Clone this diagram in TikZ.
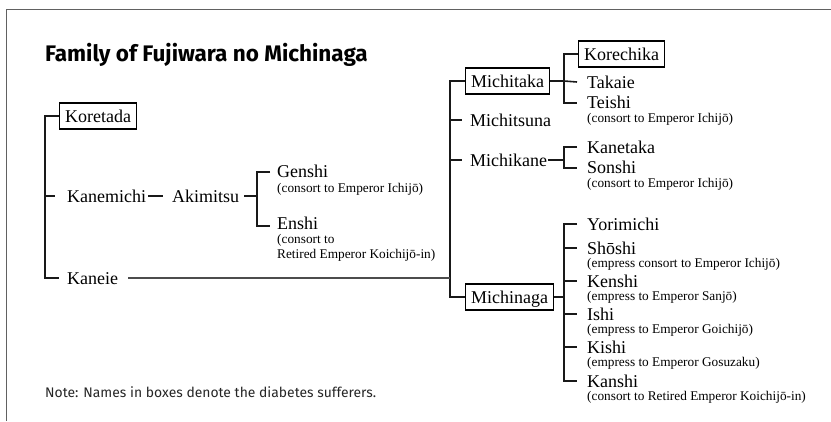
\documentclass[tikz,border=0pt]{standalone}
\usepackage{fontspec}
\setmainfont{Liberation Serif}
\newfontfamily\ttlfam{Fira Sans}
\newfontfamily\notefam{Fira Sans}
\newcommand\nmfont{\fontsize{18}{20}\selectfont}
\newcommand\sbfont{\fontsize{13.3}{15}\selectfont}
\tikzset{
  namebox/.style={draw, line width=1.1pt, inner xsep=5.5pt, inner ysep=0pt, minimum height=26pt, font=\nmfont, text height=12.5pt, text depth=0pt},
  pname/.style={inner sep=0pt, anchor=west, font=\nmfont, text height=12.5pt, text depth=0pt},
  psub/.style={inner sep=0pt, anchor=west, font=\sbfont, align=left},
  link/.style={line width=1.6pt, draw=black!90},
  longlink/.style={line width=2pt, draw=black!70},
  frame/.style={line width=1.6pt, draw=black!62}
}
\begin{document}
\begin{tikzpicture}[x=1pt,y=-1pt]
\useasboundingbox (0,0) rectangle (831,421);
\draw[frame] (6.5,421) -- (6.5,9.5) -- (831,9.5);
\node[anchor=base west, inner sep=0pt, font={\ttlfam\bfseries\fontsize{22.5}{26}\selectfont}] (title) at (45,61) {Family of Fujiwara no Michinaga};
\node[anchor=base west, inner sep=0pt, font={\notefam\fontsize{13.9}{16}\selectfont}, text=black!85] (note) at (45,397) {Note: Names in boxes denote the diabetes sufferers.};

% left generation
\node[namebox, anchor=west] (koretada) at (59,116) {Koretada};
\node[pname] (kanemichi) at (67,196) {Kanemichi};
\node[pname] (akimitsu) at (172,196) {Akimitsu};
\node[pname] (kaneie) at (67,278) {Kaneie};
\coordinate (trL) at (45,196);
\draw[link] (koretada.west) -- ++(-14,0) |- ([xshift=-8pt]kaneie.west);
\draw[link] (trL) -- ([xshift=-12pt]kanemichi.west);
\draw[link] ([xshift=2pt]kanemichi.east) -- ([xshift=-9pt]akimitsu.west);

% Akimitsu's children
\node[pname] (genshi) at (277,171) {Genshi};
\node[psub] (genshisub) at (277,189) {(consort to Emperor Ichijō)};
\node[pname] (enshi) at (277,223) {Enshi};
\node[psub] (enshisub) at (277,248) {(consort to\\Retired Emperor Koichijō-in)};
\coordinate (brA) at (257,196);
\draw[link] ([xshift=5pt]akimitsu.east) -- (brA);
\draw[link] ([shift={(-7pt,-1pt)}]genshi.west) -| (brA) |- ([shift={(-7pt,-3pt)}]enshi.west);

% right generation
\node[namebox, anchor=west] (michitaka) at (465,81) {Michitaka};
\node[pname] (michitsuna) at (470,120) {Michitsuna};
\node[pname] (michikane) at (470,160) {Michikane};
\node[namebox, anchor=west] (michinaga) at (465,297) {Michinaga};
\coordinate (trR) at (450,278);
\draw[link] (michitaka.west) -- ++(-15,0) |- (michinaga.west);
\draw[link] (450,120) -- ([xshift=-8pt]michitsuna.west);
\draw[link] (450,160) -- ([xshift=-8pt]michikane.west);
\draw[longlink] ([xshift=10pt]kaneie.east) -- (trR);

% Michitaka's children
\node[namebox, anchor=west] (korechika) at (578,54) {Korechika};
\node[pname] (takaie) at (587,82) {Takaie};
\node[pname] (teishi) at (587,102) {Teishi};
\node[psub] (teishisub) at (587,119) {(consort to Emperor Ichijō)};
\coordinate (brT) at (564,81);
\draw[link] (michitaka.east) -- (brT);
\draw[link] (korechika.west) -| (brT) |- ([shift={(-10pt,-1pt)}]teishi.west);
\draw[link] (brT) -- ([xshift=-10pt]takaie.west);

% Michikane's children
\node[pname] (kanetaka) at (587,147) {Kanetaka};
\node[pname] (sonshi) at (587,167) {Sonshi};
\node[psub] (sonshisub) at (587,184) {(consort to Emperor Ichijō)};
\coordinate (brK) at (564,160);
\draw[link] ([xshift=1pt]michikane.east) -- (brK);
\draw[link] ([xshift=-10pt]kanetaka.west) -| (brK) |- ([shift={(-10pt,-1pt)}]sonshi.west);

% Michinaga's children
\node[pname] (yorimichi) at (587,224) {Yorimichi};
\node[pname] (shoshi) at (587,248) {Shōshi};
\node[psub] (shoshisub) at (587,264) {(empress consort to Emperor Ichijō)};
\node[pname] (kenshi) at (587,281) {Kenshi};
\node[psub] (kenshisub) at (587,297) {(empress to Emperor Sanjō)};
\node[pname] (ishi) at (587,314) {Ishi};
\node[psub] (ishisub) at (587,330) {(empress to Emperor Goichijō)};
\node[pname] (kishi) at (587,347) {Kishi};
\node[psub] (kishisub) at (587,363) {(empress to Emperor Gosuzaku)};
\node[pname] (kanshi) at (587,381) {Kanshi};
\node[psub] (kanshisub) at (587,397) {(consort to Retired Emperor Koichijō-in)};
\coordinate (brM) at (564,297);
\draw[link] (michinaga.east) -- (brM);
\draw[link] ([xshift=-10pt]yorimichi.west) -| (brM) |- ([xshift=-10pt]kanshi.west);
\draw[link] (564,248) -- ([xshift=-10pt]shoshi.west);
\draw[link] (564,281) -- ([xshift=-10pt]kenshi.west);
\draw[link] (564,314) -- ([xshift=-10pt]ishi.west);
\draw[link] (564,347) -- ([xshift=-10pt]kishi.west);
\end{tikzpicture}
\end{document}
